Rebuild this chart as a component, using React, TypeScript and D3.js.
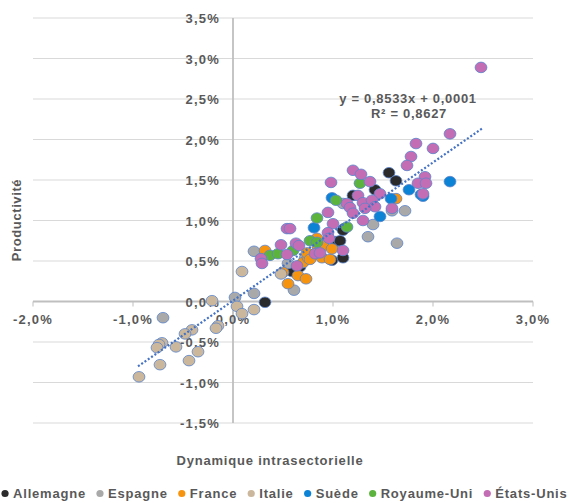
import { useEffect, useRef } from 'react';
import * as d3 from 'd3';

// values in percent: [dynamique intrasectorielle, productivité]
const allemagne: [number, number][] = [
  [0.32, -0.01], [0.59, 0.37], [0.67, 0.43], [0.99, 0.51], [1.10, 0.54], [1.03, 0.74], [1.07, 0.75],
  [1.11, 0.90], [1.20, 1.31], [1.42, 1.38], [1.56, 1.59], [1.63, 1.49], [1.10, 0.88], [0.74, 0.53],
];
const espagne: [number, number][] = [
  [-0.70, -0.20], [0.02, 0.05], [0.21, 0.10], [0.21, 0.62], [0.55, 0.47], [0.61, 0.14], [0.72, 0.53],
  [1.35, 0.80], [1.40, 0.95], [1.59, 1.12], [1.72, 1.12], [1.64, 0.72], [1.10, 1.21],
];
const france: [number, number][] = [
  [0.32, 0.63], [0.50, 0.36], [0.55, 0.22], [0.65, 0.32], [0.73, 0.28], [0.70, 0.48], [0.75, 0.54],
  [0.74, 0.60], [0.84, 0.78], [0.85, 0.67], [0.90, 0.69], [0.89, 0.54], [0.97, 0.52], [0.99, 0.65],
  [0.77, 0.52], [1.63, 1.27],
];
const italie: [number, number][] = [
  [0.09, 0.37], [0.48, 0.34], [-0.21, 0.01], [0.04, -0.06], [0.09, -0.15], [0.21, -0.10], [-0.15, -0.30],
  [-0.17, -0.33], [-0.41, -0.35], [-0.48, -0.40], [-0.35, -0.62], [-0.44, -0.73], [-0.57, -0.56],
  [-0.71, -0.51], [-0.74, -0.53], [-0.76, -0.57], [-0.73, -0.78], [-0.94, -0.93],
];
const suede: [number, number][] = [
  [0.81, 0.91], [0.99, 1.28], [1.47, 1.05], [1.58, 1.27], [1.76, 1.38], [1.90, 1.30], [2.17, 1.48], [1.88, 1.32],
];
const royaumeUni: [number, number][] = [
  [0.37, 0.57], [0.45, 0.59], [0.60, 0.63], [0.77, 0.75], [0.84, 0.73], [0.84, 1.03], [1.14, 0.92],
  [1.03, 1.25], [1.27, 1.46],
];
const etatsUnis: [number, number][] = [
  [2.48, 2.89], [2.17, 2.07], [2.00, 1.89], [1.83, 1.95], [1.78, 1.79], [1.74, 1.68], [1.92, 1.54],
  [1.85, 1.46], [1.93, 1.46], [1.90, 1.33], [1.20, 1.62], [1.28, 1.57], [0.98, 1.47], [1.37, 1.48],
  [1.47, 1.33], [1.25, 1.31], [1.14, 1.21], [1.17, 1.16], [1.30, 1.22], [1.39, 1.25], [1.42, 1.17],
  [1.32, 1.15], [1.20, 1.09], [0.95, 1.10], [1.30, 1.00], [1.59, 1.15], [1.00, 0.96], [0.95, 0.85],
  [0.96, 0.78], [1.10, 0.63], [0.82, 0.59], [0.87, 0.60], [0.64, 0.44], [0.63, 0.72], [0.66, 0.69],
  [0.54, 0.90], [0.57, 0.90], [0.54, 0.58], [0.48, 0.70], [0.28, 0.53], [0.29, 0.47],
];

const seriesNames = ['Allemagne', 'Espagne', 'France', 'Italie', 'Suède', 'Royaume-Uni', 'États-Unis'];
const seriesData = [allemagne, espagne, france, italie, suede, royaumeUni, etatsUnis];
const seriesColors = ['#2b2b2b', '#a9a9a9', '#f7940f', '#cbb89c', '#0d83d6', '#5cb43e', '#c36db5'];

const xTicks = [-2, -1, 0, 1, 2, 3];
const yTicks = [-1.5, -1, -0.5, 0, 0.5, 1, 1.5, 2, 2.5, 3, 3.5];
const slope = 0.8533;
const intercept = 0.01; // 0,0001 expressed in percent
const trendRange = [-0.95, 2.49];

const W = 569;
const H = 503;
const textColor = '#595959';
const font = '"Liberation Sans", Arial, sans-serif';

const fmt = (v: number) => v.toFixed(1).replace('.', ',') + '%';

export default function App() {
  const ref = useRef<SVGSVGElement>(null);

  useEffect(() => {
    const svg = d3.select(ref.current);
    svg.selectAll('*').remove();

    const x = d3.scaleLinear().domain([-2, 3]).range([33, 533]);
    const y = d3.scaleLinear().domain([-1.5, 3.5]).range([423, 18]);

    // gridlines
    svg.append('g').selectAll('line').data(yTicks).join('line')
      .attr('x1', x(-2)).attr('x2', x(3))
      .attr('y1', d => y(d)).attr('y2', d => y(d))
      .attr('stroke', '#d9d9d9').attr('stroke-width', 1);

    // axes through zero
    svg.append('line')
      .attr('x1', x(0)).attr('x2', x(0)).attr('y1', y(3.5)).attr('y2', y(-1.5))
      .attr('stroke', '#bfbfbf').attr('stroke-width', 1.8);
    svg.append('line')
      .attr('x1', x(-2)).attr('x2', x(3)).attr('y1', y(0)).attr('y2', y(0))
      .attr('stroke', '#bfbfbf').attr('stroke-width', 1.8);
    svg.append('g').selectAll('line').data(xTicks).join('line')
      .attr('x1', d => x(d)).attr('x2', d => x(d))
      .attr('y1', y(0)).attr('y2', y(0) + 5)
      .attr('stroke', '#bfbfbf').attr('stroke-width', 1);

    const textStyle = (sel: any, spacing = 0.8) =>
      sel.attr('fill', textColor).attr('font-family', font).attr('font-weight', 'bold')
        .attr('font-size', 13).attr('letter-spacing', spacing);

    // y tick labels
    svg.append('g').selectAll('text').data(yTicks).join('text')
      .attr('x', x(0) - 13).attr('y', d => y(d) + 5)
      .attr('text-anchor', 'end')
      .text(d => fmt(d))
      .call(textStyle, 1.2);

    // x tick labels
    svg.append('g').selectAll('text').data(xTicks).join('text')
      .attr('x', d => x(d)).attr('y', y(0) + 22)
      .attr('text-anchor', 'middle')
      .text(d => fmt(d))
      .call(textStyle, 1.2);

    // points
    seriesData.forEach((data, i) => {
      svg.append('g').selectAll('ellipse').data(data).join('ellipse')
        .attr('cx', d => x(d[0])).attr('cy', d => y(d[1]))
        .attr('rx', 5.9).attr('ry', 5.3)
        .attr('fill', seriesColors[i])
        .attr('stroke', '#5b84cc').attr('stroke-width', 0.8);
    });

    // trendline
    const line = d3.line<number>().x(d => x(d)).y(d => y(slope * d + intercept));
    svg.append('path')
      .attr('d', line(trendRange))
      .attr('fill', 'none').attr('stroke', '#4472c4')
      .attr('stroke-width', 2.2).attr('stroke-dasharray', '2 2');

    // equation
    svg.append('text').attr('x', 408).attr('y', 103).attr('text-anchor', 'middle')
      .text('y = 0,8533x + 0,0001').call(textStyle, 0.7);
    svg.append('text').attr('x', 409).attr('y', 118).attr('text-anchor', 'middle')
      .text('R² = 0,8627').call(textStyle, 0.7);

    // axis titles
    svg.append('text').attr('x', 270).attr('y', 465).attr('text-anchor', 'middle')
      .text('Dynamique intrasectorielle').call(textStyle, 0.8);
    svg.append('text').attr('transform', 'translate(21,220) rotate(-90)').attr('text-anchor', 'middle')
      .text('Productivité').call(textStyle, 0.6);

    // legend laid out by measuring text
    const legend = svg.append('g');
    const items = legend.selectAll('g').data(seriesNames).join('g');
    items.append('circle').attr('r', 3.6).attr('cy', -4.5).attr('fill', (_d, i) => seriesColors[i]);
    items.append('text').attr('x', 8).text(d => d).call(textStyle, 0.8);
    const gap = 14;
    let cx = 0;
    items.each(function () {
      const g = d3.select(this);
      g.attr('transform', `translate(${cx},0)`);
      const w = (g.select('text').node() as SVGTextElement).getComputedTextLength();
      cx += 8 + w + gap;
    });
    const total = cx - gap + 3.6;
    legend.attr('transform', `translate(${(W - total) / 2 + 3.6},498)`);
  }, []);

  return (
    <div style={{ position: 'absolute', left: 0, top: 0 }}>
      <svg ref={ref} width={W} height={H} style={{ display: 'block', background: '#fff' }} />
    </div>
  );
}
